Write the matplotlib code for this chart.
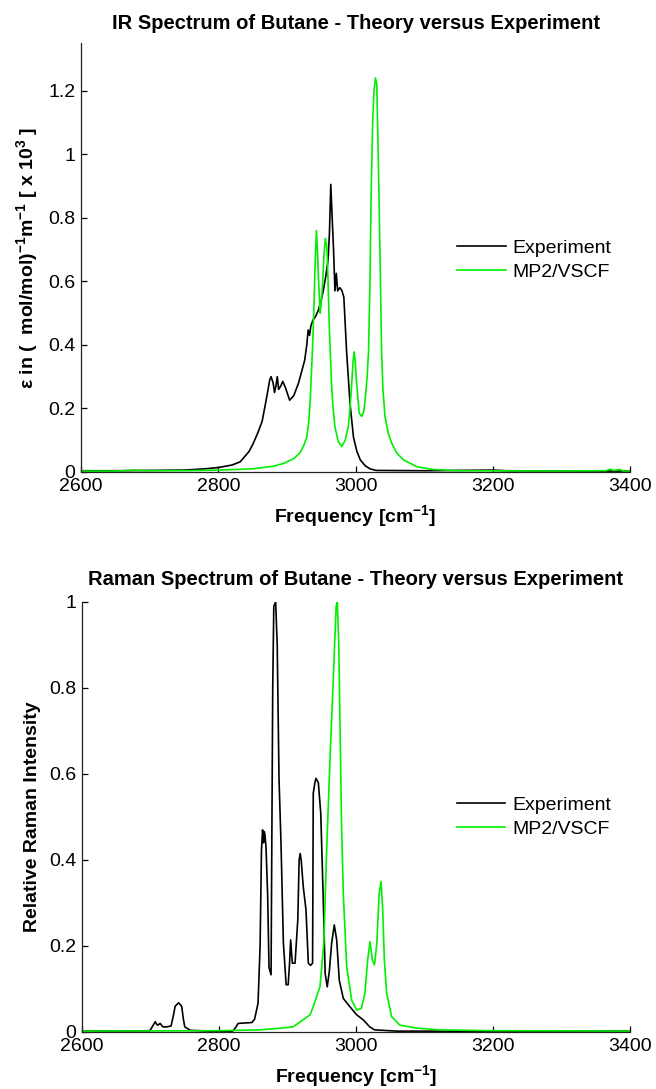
import matplotlib
matplotlib.use("Agg")
import matplotlib.pyplot as plt
from matplotlib.ticker import FuncFormatter

plt.rcParams['font.family'] = ['Liberation Sans', 'DejaVu Sans']
plt.rcParams['mathtext.fontset'] = 'custom'
plt.rcParams['mathtext.rm'] = 'Liberation Sans'
plt.rcParams['mathtext.bf'] = 'Liberation Sans:bold'
plt.rcParams['mathtext.default'] = 'bf'

# ---------------- IR data ----------------
ir_exp_f = [2600, 2650, 2700, 2750, 2780, 2800, 2820, 2832, 2845, 2851, 2858, 2864, 2871, 2875,
            2877, 2880, 2882, 2884, 2886, 2888, 2891, 2894, 2898, 2904, 2910, 2917, 2922, 2926,
            2929, 2931, 2933, 2935, 2938, 2942, 2946, 2950, 2953, 2957, 2960, 2962, 2964, 2966,
            2968, 2970, 2972, 2974, 2977, 2980, 2983, 2987, 2992, 2997, 3002, 3007, 3014, 3021,
            3030, 3100, 3200, 3220, 3300, 3400]
ir_exp_v = [0.004, 0.004, 0.005, 0.006, 0.010, 0.014, 0.022, 0.032, 0.065, 0.090, 0.125, 0.160,
            0.240, 0.290, 0.300, 0.280, 0.250, 0.270, 0.300, 0.260, 0.270, 0.285, 0.265, 0.226,
            0.240, 0.280, 0.320, 0.352, 0.400, 0.447, 0.430, 0.460, 0.478, 0.490, 0.510, 0.540,
            0.570, 0.620, 0.667, 0.750, 0.905, 0.800, 0.700, 0.570, 0.625, 0.570, 0.580, 0.572,
            0.550, 0.380, 0.216, 0.110, 0.065, 0.038, 0.020, 0.010, 0.005, 0.004, 0.006, 0.004,
            0.003, 0.003]

ir_th_f = [2600, 2650, 2680, 2690, 2750, 2800, 2850, 2880, 2895, 2910, 2919, 2925, 2929, 2932,
           2934, 2936, 2938, 2940, 2941, 2943, 2944.5, 2946, 2948.5, 2950, 2952, 2954, 2956, 2958,
           2959, 2960.5, 2962, 2965, 2967, 2970, 2975, 2980, 2985, 2989.5, 2992, 2994.5, 2996.5,
           2998, 2999.5, 3001.6, 3005.5, 3009, 3012, 3014, 3017, 3019, 3021, 3023, 3025, 3027,
           3029, 3031, 3033, 3035.6, 3038, 3040, 3043, 3048, 3053, 3060, 3070, 3089, 3113, 3150,
           3300, 3365, 3371, 3376, 3385, 3390, 3400]
ir_th_v = [0.003, 0.003, 0.006, 0.004, 0.004, 0.006, 0.010, 0.018, 0.027, 0.042, 0.060, 0.085,
           0.110, 0.160, 0.226, 0.320, 0.425, 0.560, 0.646, 0.760, 0.700, 0.610, 0.500, 0.530,
           0.590, 0.680, 0.735, 0.710, 0.677, 0.560, 0.447, 0.280, 0.210, 0.142, 0.095, 0.080,
           0.100, 0.142, 0.200, 0.280, 0.350, 0.378, 0.350, 0.280, 0.185, 0.175, 0.190, 0.226,
           0.300, 0.380, 0.590, 0.900, 1.100, 1.200, 1.240, 1.220, 1.010, 0.700, 0.380, 0.260,
           0.174, 0.120, 0.090, 0.060, 0.038, 0.017, 0.008, 0.004, 0.003, 0.004, 0.009, 0.005,
           0.008, 0.003, 0.003]

# ---------------- Raman data ----------------
ra_exp_f = [2600, 2650, 2699, 2704, 2707, 2709, 2711, 2714, 2718, 2724, 2730, 2733, 2736, 2741,
            2745.5, 2748, 2750, 2758, 2800, 2820, 2825, 2828, 2848, 2852, 2857, 2860, 2862,
            2863.6, 2865, 2866, 2867, 2868.6, 2871, 2873, 2876, 2878.4, 2880, 2882.7, 2885,
            2887.6, 2890.5, 2894, 2898, 2901, 2903, 2904.6, 2907, 2911, 2915, 2917, 2918.5, 2920,
            2923, 2927, 2930.4, 2933.6, 2936.6, 2937.6, 2940, 2941.6, 2945, 2948.5, 2952, 2955,
            2958, 2961, 2964.4, 2968.3, 2971.8, 2975.6, 2981.5, 2991, 3001, 3010.7, 3020, 3027,
            3060, 3400]
ra_exp_v = [0.002, 0.002, 0.003, 0.016, 0.024, 0.018, 0.016, 0.020, 0.012, 0.012, 0.014, 0.035,
            0.060, 0.068, 0.060, 0.030, 0.012, 0.004, 0.001, 0.002, 0.012, 0.020, 0.022, 0.030,
            0.067, 0.200, 0.423, 0.470, 0.440, 0.466, 0.460, 0.430, 0.320, 0.150, 0.133, 0.795,
            0.990, 1.000, 0.900, 0.590, 0.440, 0.207, 0.110, 0.110, 0.160, 0.214, 0.160, 0.160,
            0.260, 0.400, 0.415, 0.400, 0.338, 0.284, 0.160, 0.155, 0.160, 0.555, 0.580, 0.590,
            0.580, 0.510, 0.320, 0.136, 0.105, 0.140, 0.206, 0.249, 0.214, 0.120, 0.078, 0.059,
            0.040, 0.028, 0.012, 0.005, 0.002, 0.002]

ra_th_f = [2600, 2800, 2860, 2890, 2908, 2920, 2933, 2937.6, 2947.4, 2953, 2957, 2962, 2966,
           2968.3, 2971, 2972.7, 2974.8, 2976.7, 2979, 2981.5, 2986.4, 2993.7, 3001, 3008, 3013,
           3017, 3020.4, 3024, 3027, 3030.4, 3033.7, 3036.6, 3039, 3041.4, 3044.8, 3052, 3064,
           3089, 3121, 3200, 3400]
ra_th_v = [0.002, 0.003, 0.005, 0.009, 0.012, 0.025, 0.040, 0.059, 0.105, 0.206, 0.415, 0.633,
           0.788, 0.880, 0.990, 1.000, 0.905, 0.710, 0.477, 0.320, 0.152, 0.074, 0.051, 0.055,
           0.090, 0.167, 0.210, 0.167, 0.156, 0.206, 0.320, 0.350, 0.284, 0.167, 0.090, 0.036,
           0.016, 0.009, 0.005, 0.003, 0.002]

x_ticks = [2600, 2800, 3000, 3200, 3400]
ir_yticks = [0, 0.2, 0.4, 0.6, 0.8, 1.0, 1.2]
ra_yticks = [0, 0.2, 0.4, 0.6, 0.8, 1.0]
labels = ['Experiment', 'MP2/VSCF']

GREEN = '#00F000'
FS = 14

fig = plt.figure(figsize=(6.56, 10.89), dpi=100)
W, H = 656, 1089
ax1 = fig.add_axes([81 / W, 1 - 472 / H, 549 / W, 429 / H])
ax2 = fig.add_axes([82 / W, 1 - 1032 / H, 548 / W, 430 / H])

fmt = FuncFormatter(lambda v, p: '%g' % v)

def style(ax, yticks, ylim):
    ax.set_xlim(2600, 3400)
    ax.set_ylim(*ylim)
    ax.set_xticks(x_ticks)
    ax.set_yticks(yticks)
    ax.yaxis.set_major_formatter(fmt)
    ax.spines['top'].set_visible(False)
    ax.spines['right'].set_visible(False)
    for s in ('left', 'bottom'):
        ax.spines[s].set_linewidth(0.9)
        ax.spines[s].set_color('#222222')
    ax.tick_params(direction='in', length=4, width=0.9, labelsize=FS)
    ax.tick_params(axis='x', pad=4)
    ax.tick_params(axis='y', pad=4)

ax1.plot(ir_exp_f, ir_exp_v, color='black', lw=1.2, label=labels[0])
ax1.plot(ir_th_f, ir_th_v, color=GREEN, lw=1.2, label=labels[1])
style(ax1, ir_yticks, (0, 1.35))
ax1.set_title('IR Spectrum of Butane - Theory versus Experiment', fontsize=14.5,
              fontweight='bold', pad=10)
ax1.set_xlabel(r'Frequency [cm$^{-1}$]', fontsize=FS, fontweight='bold', labelpad=6)
ax1.set_ylabel(r'ε in (  mol/mol)$^{-1}$m$^{-1}$ [ x 10$^{3}$ ]', fontsize=FS,
               fontweight='bold', labelpad=6)
ax1.legend(loc='center left', bbox_to_anchor=(0.685, 0.494), frameon=False, fontsize=FS,
           handlelength=2.5, handletextpad=0.35, borderpad=0, borderaxespad=0,
           labelspacing=0.35)

ax2.plot(ra_exp_f, ra_exp_v, color='black', lw=1.2, label=labels[0])
ax2.plot(ra_th_f, ra_th_v, color=GREEN, lw=1.2, label=labels[1])
style(ax2, ra_yticks, (0, 1.0))
ax2.set_title('Raman Spectrum of Butane - Theory versus Experiment', fontsize=14.5,
              fontweight='bold', pad=12)
ax2.set_xlabel(r'Frequency [cm$^{-1}$]', fontsize=FS, fontweight='bold', labelpad=6)
ax2.set_ylabel('Relative Raman Intensity', fontsize=FS, fontweight='bold', labelpad=6)
ax2.legend(loc='center left', bbox_to_anchor=(0.684, 0.5), frameon=False, fontsize=FS,
           handlelength=2.5, handletextpad=0.35, borderpad=0, borderaxespad=0,
           labelspacing=0.35)

fig.savefig('out.png', dpi=100)
